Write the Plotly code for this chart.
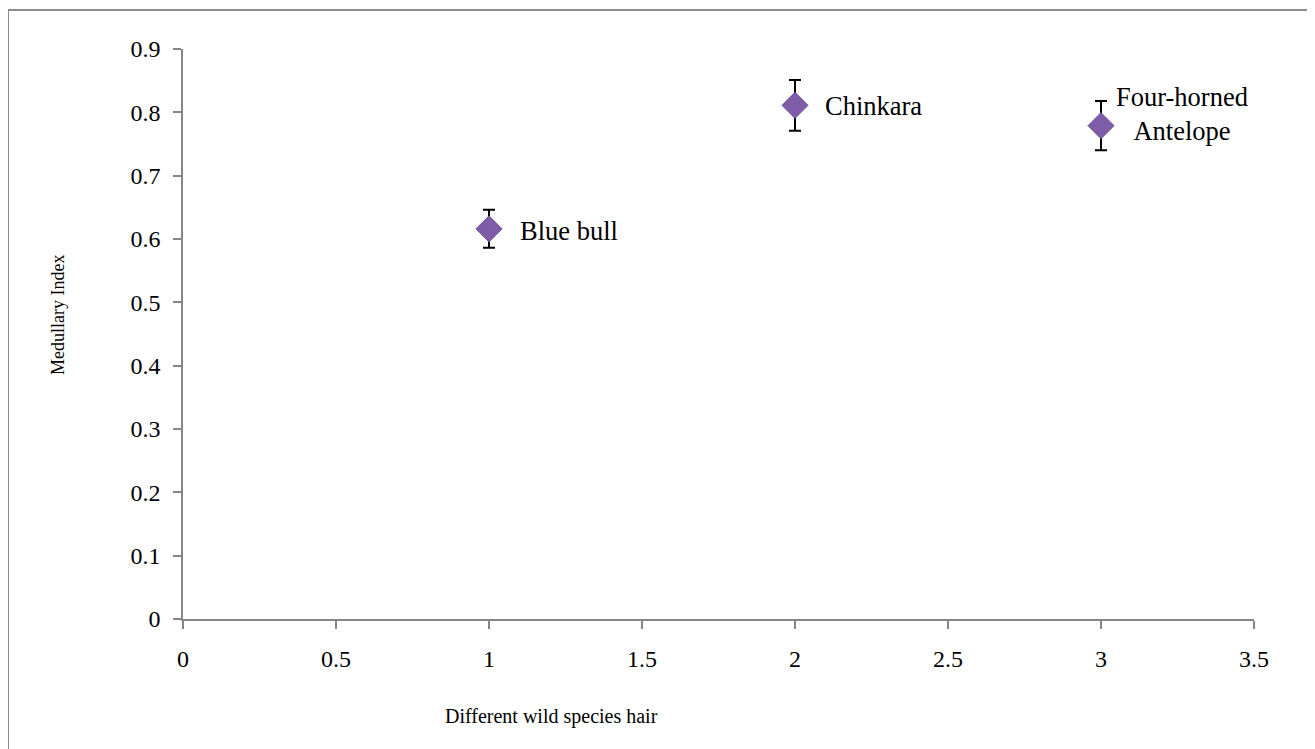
import plotly.graph_objects as go

species = ["Blue bull", "Chinkara", "Four-horned<br>Antelope"]
x_vals = [1, 2, 3]
mi_vals = [0.616, 0.811, 0.779]
mi_err = [0.030, 0.040, 0.039]
x_ticks = [0, 0.5, 1, 1.5, 2, 2.5, 3, 3.5]
y_ticks = [0, 0.1, 0.2, 0.3, 0.4, 0.5, 0.6, 0.7, 0.8, 0.9]

OFF = 8  # page body margin
W, H = 1315 - OFF, 749 - OFF
# desired page pixel positions of the plot area
PX0, PX1, PY0, PY1 = 183, 1254, 49, 619
L, T = PX0 - OFF, PY0 - OFF
R, B = W - (PX1 - OFF), H - (PY1 - OFF)
pw, ph = PX1 - PX0, PY1 - PY0


def px(xp):
    return (xp - PX0) / pw


def py(yp):
    return (PY1 - yp) / ph


FONT = "Liberation Serif, Times New Roman, serif"

fig = go.Figure()
fig.add_trace(go.Scatter(
    x=x_vals, y=mi_vals, mode="markers",
    marker=dict(symbol="diamond", size=20, color="#7e5ca8",
                line=dict(color="#6a4b95", width=1)),
    error_y=dict(type="data", array=mi_err, visible=True,
                 color="black", thickness=2, width=6),
    showlegend=False, hoverinfo="x+y",
))

# data labels
offsets = [(29, -2, "left"), (28, -1, "left"), (81, 12, "center")]
for xv, yv, name, (dx, dy, al) in zip(x_vals, mi_vals, species, offsets):
    fig.add_annotation(x=xv, y=yv, xref="x", yref="y", text=name,
                       showarrow=False, xanchor=al,
                       yanchor="middle", xshift=dx, yshift=dy,
                       align="center",
                       font=dict(family=FONT, size=26.5, color="black"))

fig.add_annotation(text="Medullary Index", xref="paper", yref="paper",
                   x=px(58), y=py(315), textangle=-90,
                   showarrow=False, xanchor="center", yanchor="middle",
                   font=dict(family=FONT, size=18, color="black"))
fig.add_annotation(text="Different wild species hair", xref="paper", yref="paper",
                   x=px(551), y=py(716),
                   showarrow=False, xanchor="center", yanchor="middle",
                   font=dict(family=FONT, size=20, color="black"))

# outer chart frame
fig.add_shape(type="rect", xref="paper", yref="paper",
              x0=px(8), y0=py(800), x1=px(1400), y1=py(10),
              line=dict(color="#8c8c8c", width=2), layer="below")

axis_common = dict(showgrid=False, zeroline=False, showline=True,
                   linecolor="#868686", linewidth=1.5, ticks="outside",
                   ticklen=8, tickcolor="#868686", tickwidth=1.5,
                   tickfont=dict(family=FONT, size=24, color="black"))

fig.update_layout(
    width=W, height=H,
    margin=dict(l=L, r=R, t=T, b=B),
    paper_bgcolor="white", plot_bgcolor="white",
    xaxis=dict(range=[0, 3.5], tickvals=x_ticks,
               ticktext=[f"{v:g}" for v in x_ticks],
               ticklabelstandoff=9, **axis_common),
    yaxis=dict(range=[0, 0.9], tickvals=y_ticks,
               ticktext=[f"{v:g}" for v in y_ticks],
               ticklabelstandoff=8, **axis_common),
)

fig.write_html("out.html")
